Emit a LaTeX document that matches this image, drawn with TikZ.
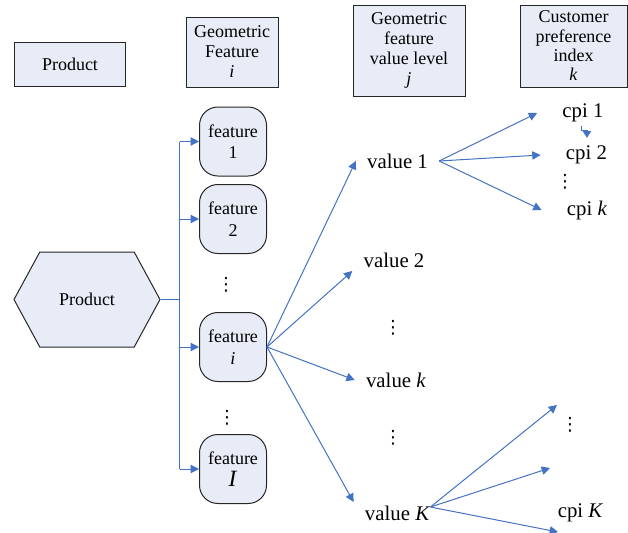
\documentclass[tikz,border=0pt]{standalone}
\usepackage{fontspec}
\setmainfont{Liberation Serif}
\newfontfamily\dotsfont{DejaVu Sans}
\usetikzlibrary{arrows.meta,shapes.symbols}
\definecolor{boxfill}{RGB}{231,236,247}
\definecolor{linkblue}{RGB}{68,114,196}
\tikzset{
  hdr/.style={draw=black!85,fill=boxfill,line width=0.6pt,align=center,inner sep=0pt,
    font=\fontsize{10.8}{12}\selectfont},
  featbox/.style={draw=black!85,fill=boxfill,line width=0.6pt,rounded corners=11pt,align=center,
    minimum width=40.2pt,minimum height=41.4pt,inner sep=0pt,font=\fontsize{10.8}{13}\selectfont},
  val/.style={inner xsep=6.6pt,inner ysep=2pt,font=\fontsize{12.5}{14}\selectfont},
  cpi/.style={inner xsep=15pt,inner ysep=2pt,font=\fontsize{12.5}{14}\selectfont},
  vdot/.style={inner sep=0pt,font=\dotsfont\fontsize{11}{12}\selectfont},
  link/.style={draw=linkblue,line width=0.6pt},
  arr/.style={link,-{Triangle[length=5pt,width=5pt]}},
}
\begin{document}
\begin{tikzpicture}[x=0.6pt,y=-0.6pt]
        \useasboundingbox (0,0) rectangle (628,533);
        %% headings
        \node[hdr,minimum width=67.2pt,minimum height=26.4pt] (hdrprod) at (70,64.5) {Product};
        \node[hdr,minimum width=55.2pt,minimum height=42pt] (hdrfeat) at (232,52) {Geometric\\Feature\\\textit{i}};
        \node[hdr,minimum width=67.2pt,minimum height=54.6pt] (hdrval) at (409,50.5) {Geometric\\feature\\value level\\\textit{j}};
        \node[hdr,minimum width=64.2pt,minimum height=49.2pt,font=\fontsize{10.8}{11.6}\selectfont] (hdrcpi) at (573.5,46) {Customer\\preference\\index\\\textit{k}};
        %% product
        \node[draw=black!85,fill=boxfill,line width=0.6pt,shape=signal,signal to=east and west,
          signal pointer angle=123,minimum width=87.6pt,minimum height=57pt,inner sep=0pt,
          font=\fontsize{10.8}{12}\selectfont] (prod) at (87,299.5) {Product};
        %% features
        \node[featbox] (feat1) at (233,141.5) {feature\\1};
        \node[featbox] (feat2) at (233,219) {feature\\2};
        \node[featbox] (feati) at (233,347) {feature\\\textit{i}};
        \node[featbox] (featI) at (233,469) {feature\\{\fontsize{14}{14}\selectfont\textit{I}}};
        \node[vdot] (fdots1) at (226,285) {⋮};
        \node[vdot] (fdots2) at (227,418) {⋮};
        %% value levels
        \node[val] (val1) at (397.5,161) {value 1};
        \node[val] (val2) at (394,260) {value 2};
        \node[val] (valk) at (396,380) {value \textit{k}};
        \node[val] (valK) at (397.5,513) {value \textit{K}};
        \node[vdot] (vdots1) at (393,328) {⋮};
        \node[vdot] (vdots2) at (393,438) {⋮};
        %% preference indices
        \node[cpi] (cpi1) at (583,113) {cpi 1};
        \node[cpi] (cpi2) at (586.5,155) {cpi 2};
        \node[cpi] (cpik) at (587,210) {cpi \textit{k}};
        \node[cpi] (cpiK) at (580.5,513) {cpi \textit{K}};
        \node[vdot] (cdots1) at (565,182) {⋮};
        \node[vdot] (cdots2) at (570,425) {⋮};
        \coordinate (tipK1) at (557,405);
        \coordinate (tipK2) at (550,468);
        \coordinate (tipK3) at (558,532);
        %% product to features
        \draw[link,line width=0.9pt] (prod.east) -- ++(19,0) coordinate (bus);
        \draw[link,line width=0.9pt] (bus |- feat1.west) -- (bus |- featI.west);
        \foreach \f in {feat1,feat2,feati,featI}
            \draw[arr] (bus |- \f.west) -- (\f.west);
        %% feature to values
        \foreach \v/\a in {val1/west,val2/south west,valk/west,valK/north west}
            \draw[arr] (feati.east) -- (\v.\a);
        %% values to indices
        \foreach \c in {cpi1,cpi2,cpik}
            \draw[arr] (val1.east) -- (\c.west);
        \foreach \t in {tipK1,tipK2,tipK3}
            \draw[arr] ([xshift=-6.6pt,yshift=-3pt]valK.north east) -- (\t);
        \draw[arr,-{Triangle[length=4pt,width=5pt]}] ([xshift=-1.2pt]cpi1.south) -- ++(0,5) -- ++(6,0) -- ++(0,7);
    \end{tikzpicture}
\end{document}
